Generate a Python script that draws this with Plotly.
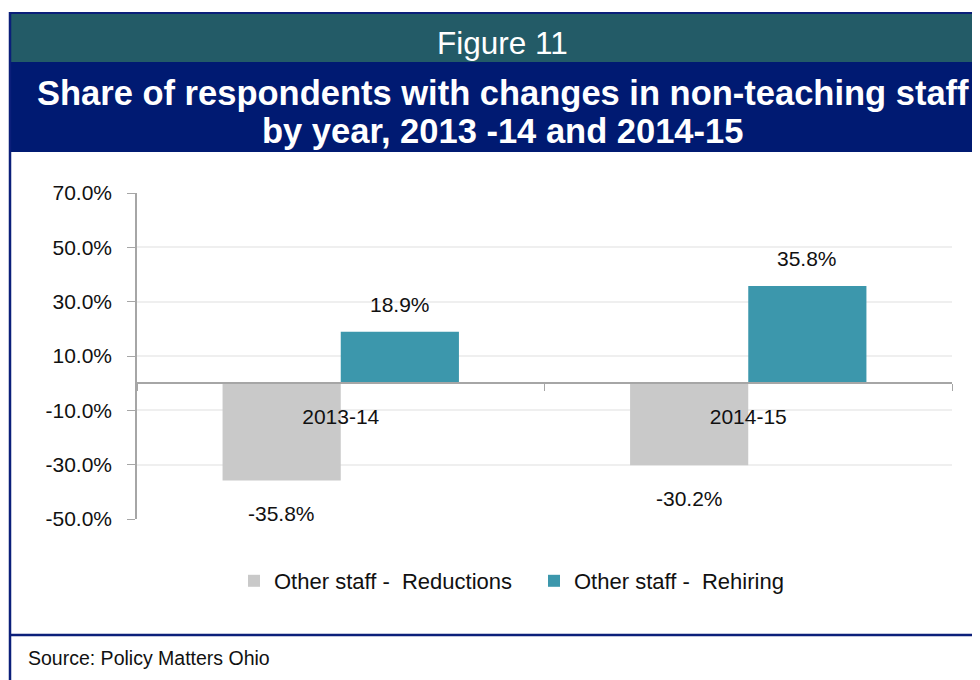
import plotly.graph_objects as go

# data
years = ["2013-14", "2014-15"]
reductions = [-35.8, -30.2]
rehiring = [18.9, 35.8]
y_ticks = [-50, -30, -10, 10, 30, 50, 70]
y_labels = ["%.1f%%" % v for v in y_ticks]
y_min, y_max = -50, 70

# the page body adds an 8px margin, so the figure is laid out 8px smaller
OFF = 8
W, H = 980 - OFF, 680 - OFF
ML, MR, MT, MB = 137 - OFF, 28, 193 - OFF, 161
PW = W - ML - MR
PH = H - MT - MB

FONT = "Liberation Sans, Arial, sans-serif"
TXT = "#111111"
GRAY = "#C9C9C9"
TEAL = "#3C97AC"
NAVY = "#001A72"
BAND = "#235B67"
LINE = "#0B1F7A"


# screen pixel -> paper coordinates, for the header / footer decoration
def fx(px):
    return (px - OFF - ML) / PW


def fy(py):
    return (H - MB - (py - OFF)) / PH


fig = go.Figure()
fig.add_trace(go.Bar(x=years, y=reductions, name="Other staff -  Reductions",
                     marker=dict(color=GRAY, line=dict(width=0))))
fig.add_trace(go.Bar(x=years, y=rehiring, name="Other staff -  Rehiring",
                     marker=dict(color=TEAL, line=dict(width=0))))

# value labels, offset from the bar ends like the Excel original
annotations = []
half_bar = PW / len(years) * (1 - 0.42) / 4
for yr, v in zip(years, reductions):
    annotations.append(dict(x=yr, y=v, xref="x", yref="y", text="%.1f%%" % v,
                            showarrow=False, xshift=-half_bar, yshift=-33, yanchor="middle",
                            font=dict(family=FONT, size=21, color=TXT)))
for yr, v in zip(years, rehiring):
    annotations.append(dict(x=yr, y=v, xref="x", yref="y", text="%.1f%%" % v,
                            showarrow=False, xshift=half_bar, yshift=27, yanchor="middle",
                            font=dict(family=FONT, size=21, color=TXT)))

# header and footer texts
annotations.append(dict(x=fx(502), y=fy(43), xref="paper", yref="paper", text="Figure 11",
                        xanchor="center", yanchor="middle", showarrow=False,
                        font=dict(family=FONT, size=31.5, color="white")))
annotations.append(dict(x=fx(503), y=fy(93), xref="paper", yref="paper",
                        text="<b>Share of respondents with changes in non-teaching staff</b>",
                        xanchor="center", yanchor="middle", showarrow=False,
                        font=dict(family=FONT, size=34.5, color="white")))
annotations.append(dict(x=fx(502), y=fy(131), xref="paper", yref="paper",
                        text="<b>by year, 2013 -14 and 2014-15</b>",
                        xanchor="center", yanchor="middle", showarrow=False,
                        font=dict(family=FONT, size=34.5, color="white")))
annotations.append(dict(x=fx(26), y=fy(658), xref="paper", yref="paper",
                        text="Source: Policy Matters Ohio",
                        xanchor="left", yanchor="middle", showarrow=False,
                        font=dict(family=FONT, size=19.5, color=TXT)))

shapes = [
    dict(type="rect", xref="paper", yref="paper", x0=fx(10), x1=fx(990), y0=fy(13), y1=fy(62),
         fillcolor=BAND, line=dict(width=0), layer="below"),
    dict(type="rect", xref="paper", yref="paper", x0=fx(10), x1=fx(990), y0=fy(62), y1=fy(152),
         fillcolor=NAVY, line=dict(width=0), layer="below"),
    dict(type="line", xref="paper", yref="paper", x0=fx(9), x1=fx(990), y0=fy(13), y1=fy(13),
         line=dict(color=LINE, width=2)),
    dict(type="line", xref="paper", yref="paper", x0=fx(10), x1=fx(10), y0=fy(12), y1=fy(700),
         line=dict(color=LINE, width=2.5)),
    dict(type="line", xref="paper", yref="paper", x0=fx(10), x1=fx(990), y0=fy(635), y1=fy(635),
         line=dict(color=LINE, width=2.5)),
]

fig.update_layout(
    width=W, height=H,
    margin=dict(l=ML, r=MR, t=MT, b=MB),
    paper_bgcolor="white", plot_bgcolor="white",
    barmode="group", bargap=0.42, bargroupgap=0,
    showlegend=True,
    legend=dict(orientation="h", x=fx(234), y=fy(581), xanchor="left", yanchor="middle",
                font=dict(family=FONT, size=22, color=TXT),
                entrywidth=255, entrywidthmode="pixels", itemclick=False),
    annotations=annotations,
    shapes=shapes,
    font=dict(family=FONT, color=TXT),
)
fig.update_yaxes(range=[y_min, y_max], tickvals=y_ticks, ticktext=y_labels,
                 showline=True, linecolor="#A6A6A6", linewidth=1.5,
                 ticks="outside", ticklen=8, tickcolor="#A6A6A6",
                 showgrid=True, gridcolor="#EFEFEF", gridwidth=1.5, zeroline=False,
                 ticklabelstandoff=11,
                 tickfont=dict(family=FONT, size=21, color=TXT))
# category axis sits on the zero line, as in the original
fig.update_xaxes(type="category", anchor="free", position=(0 - y_min) / (y_max - y_min),
                 showline=True, linecolor="#A6A6A6", linewidth=1.5,
                 ticks="outside", tickson="boundaries", ticklen=7, tickcolor="#A6A6A6",
                 showgrid=False, ticklabelstandoff=15,
                 tickfont=dict(family=FONT, size=21, color=TXT))

fig.write_html("out.html")
